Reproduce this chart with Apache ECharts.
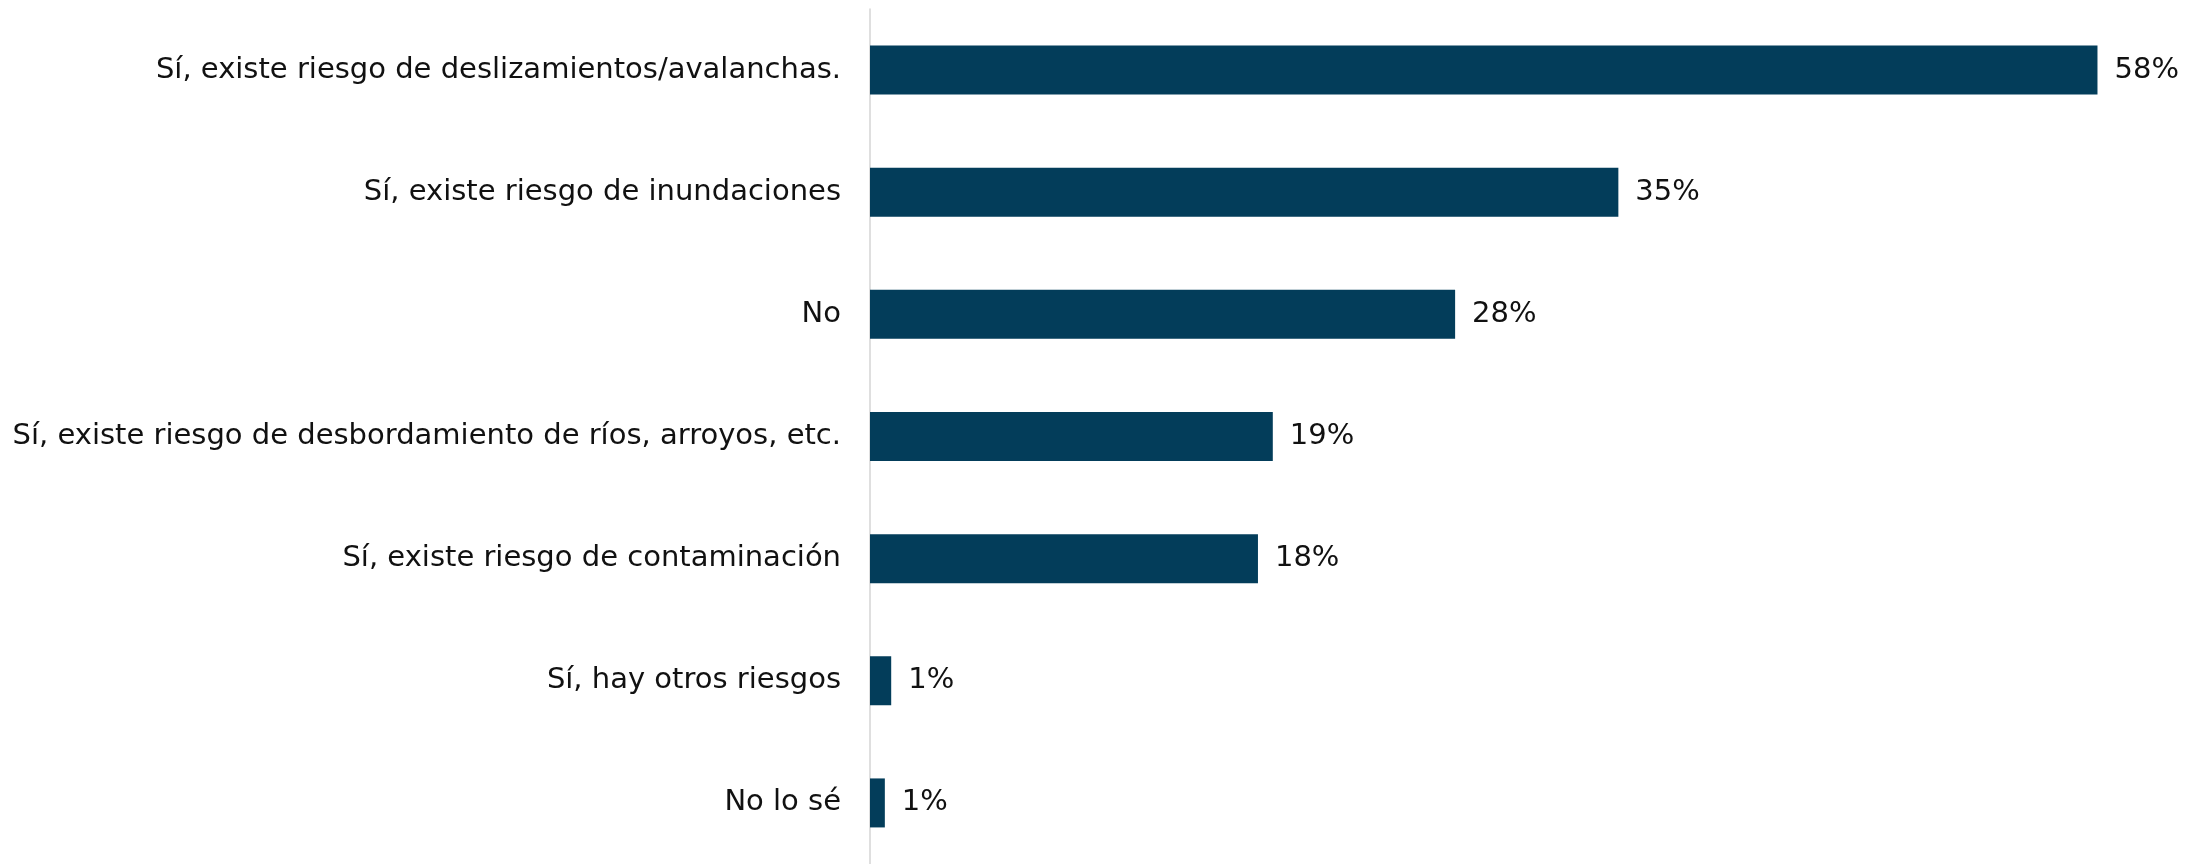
<!DOCTYPE html>
<html>
<head>
<meta charset="utf-8">
<script src="https://cdn.jsdelivr.net/npm/echarts@6/dist/echarts.min.js"></script>
<style>
html,body{margin:0;padding:0;background:#fff;}
#chart{width:2211px;height:864px;}
</style>
</head>
<body>
<div id="chart"></div>
<script>
const categories = [
  "Sí, existe riesgo de deslizamientos/avalanchas.",
  "Sí, existe riesgo de inundaciones",
  "No",
  "Sí, existe riesgo de desbordamiento de ríos, arroyos, etc.",
  "Sí, existe riesgo de contaminación",
  "Sí, hay otros riesgos",
  "No lo sé"
];
const values = [57.9, 35.3, 27.6, 19.0, 18.3, 1.0, 0.7];

const chart = echarts.init(document.getElementById('chart'));
chart.setOption({
  animation: false,
  grid: { left: 870, right: 69, top: 9, bottom: -6, containLabel: false },
  xAxis: {
    type: 'value', min: 0, max: 60,
    show: false, splitLine: { show: false }
  },
  yAxis: {
    type: 'category', data: categories, inverse: true,
    axisLine: { show: true, lineStyle: { color: '#d4d4d4', width: 1.5 } },
    axisTick: { show: false },
    axisLabel: { color: '#111', fontFamily: 'DejaVu Sans', fontSize: 29, margin: 29 }
  },
  series: [{
    type: 'bar', data: values, barWidth: 49,
    itemStyle: { color: '#033d5a' },
    label: {
      show: true, position: 'right', distance: 17,
      color: '#111', fontFamily: 'DejaVu Sans', fontSize: 29,
      formatter: p => Math.round(p.value) + '%'
    }
  }]
});
</script>
</body>
</html>
